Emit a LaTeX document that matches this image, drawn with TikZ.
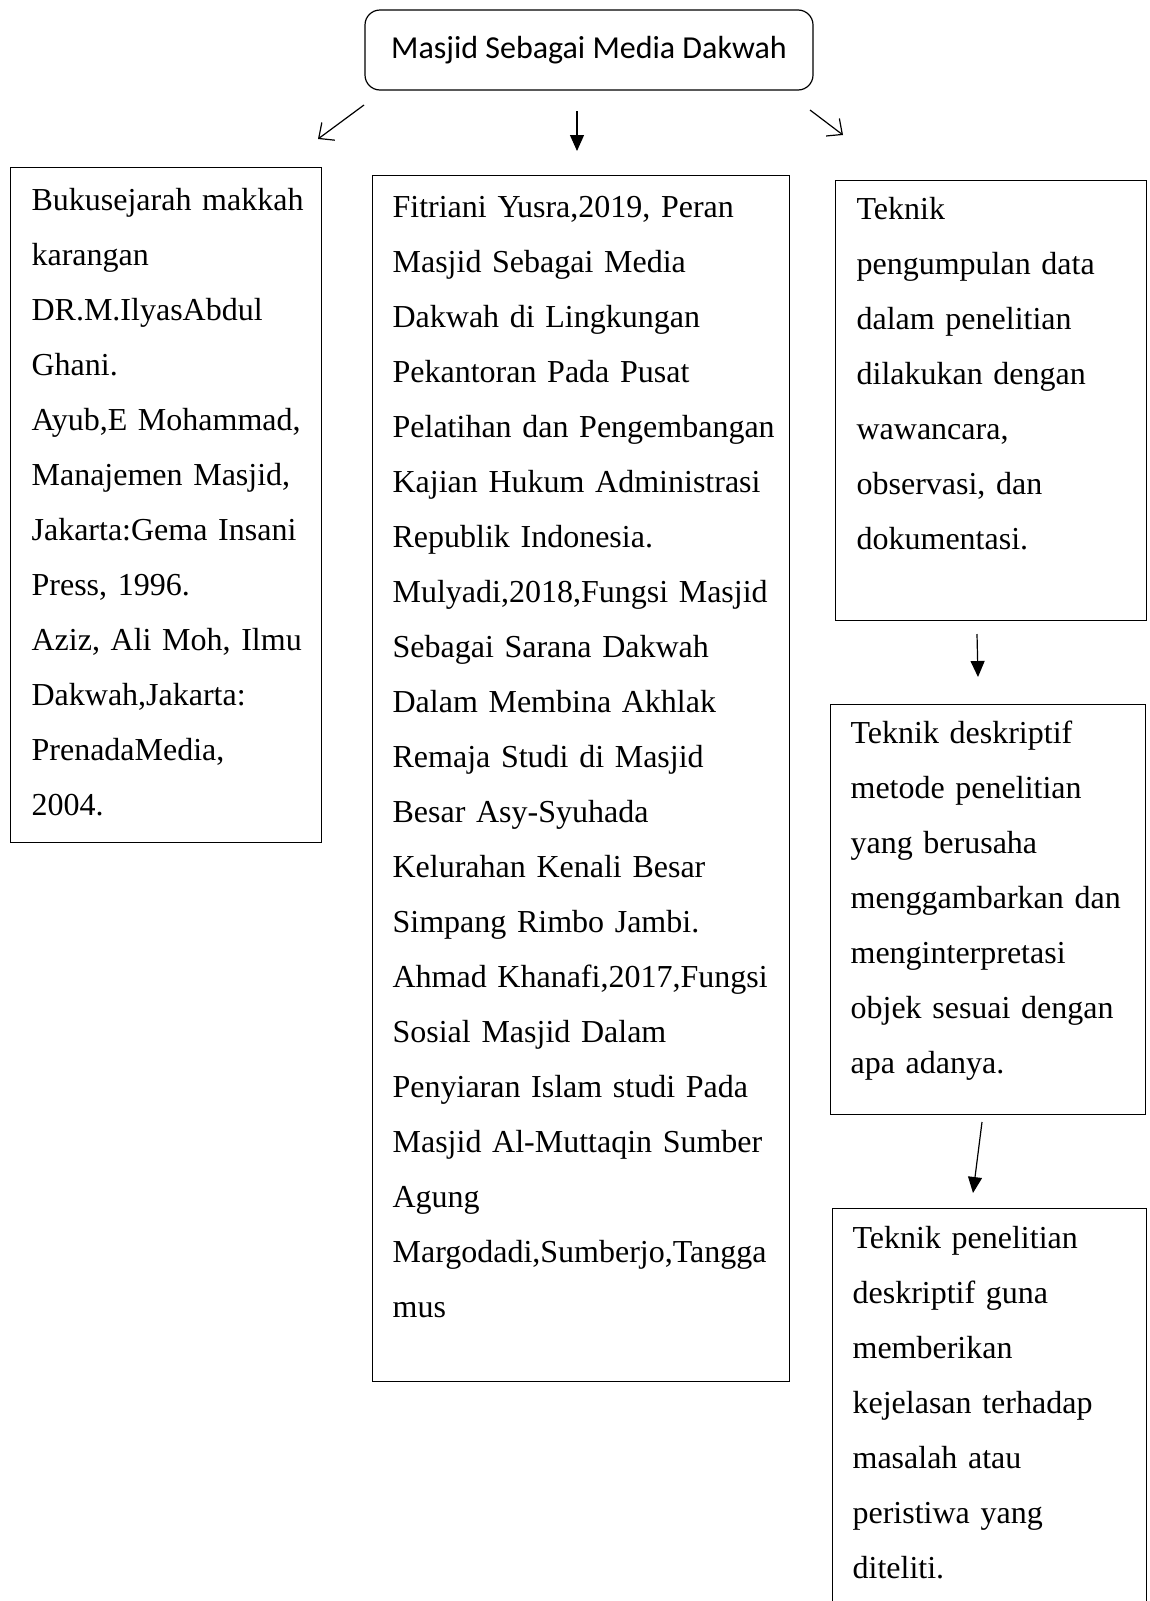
\documentclass[tikz,border=0pt]{standalone}
\usepackage{fontspec}
\setmainfont{Liberation Serif}
\newfontfamily\calibri{Carlito}
\usetikzlibrary{arrows.meta}

\begin{document}
\begin{tikzpicture}[x=0.5pt, y=-0.5pt, line width=0.6pt,
  box/.style = {draw, rectangle, anchor=north west, inner sep=0pt},
  txt/.style = {anchor=north west, inner sep=0pt, align=left, text width=#1,
    font=\fontsize{16pt}{27.5pt}\selectfont, execute at begin node=\rule{0pt}{12pt}},
  arrowopen/.style = {-{Straight Barb[length=6pt, width=11pt]}},
  arrowfull/.style = {-{Triangle[length=8pt, width=7pt]}}]
\clip (0,0) rectangle (1150,1601);
\fill[white] (0,0) rectangle (1150,1601);
% judul
\node[draw, rounded corners=7.5pt, minimum width=224pt, minimum height=40pt,
  font=\calibri\fontsize{16pt}{19pt}\selectfont] (judul) at (589,50) {Masjid Sebagai Media Dakwah};
% kotak
\node[box, minimum width=155.5pt, minimum height=337.5pt] (buku) at (10,167) {};
\node[box, minimum width=208.5pt, minimum height=603pt] (jurnal) at (372,175) {};
\node[box, minimum width=155.5pt, minimum height=220pt] (teknik) at (835,180) {};
\node[box, minimum width=157.5pt, minimum height=205pt] (deskriptif) at (830,704) {};
\node[box, minimum width=157pt, minimum height=220pt] (penelitian) at (832,1208) {};
% teks
\node[txt=135pt] (bukuteks) at ([shift={(21,19)}]buku.north west) {%
  \makebox[\linewidth][s]{Bukusejarah makkah}\\
  karangan\\
  DR.M.IlyasAbdul\\
  Ghani.\\
  \makebox[\linewidth][s]{Ayub,E Mohammad,}\\
  \makebox[\linewidth][s]{Manajemen Masjid,}\\
  \makebox[\linewidth][s]{Jakarta:Gema Insani}\\
  Press, 1996.\\
  \makebox[\linewidth][s]{Aziz, Ali Moh, Ilmu}\\
  Dakwah,Jakarta:\\
  PrenadaMedia,\\
  2004.};
\node[txt=200pt] (jurnalteks) at ([shift={(20,18)}]jurnal.north west) {%
  Fitriani Yusra,2019, Peran\\
  Masjid Sebagai Media\\
  Dakwah di Lingkungan\\
  Pekantoran Pada Pusat\\
  Pelatihan dan Pengembangan\\
  Kajian Hukum Administrasi\\
  Republik Indonesia.\\
  Mulyadi,2018,Fungsi Masjid\\
  Sebagai Sarana Dakwah\\
  Dalam Membina Akhlak\\
  Remaja Studi di Masjid\\
  Besar Asy-Syuhada\\
  Kelurahan Kenali Besar\\
  Simpang Rimbo Jambi.\\
  Ahmad Khanafi,2017,Fungsi\\
  Sosial Masjid Dalam\\
  Penyiaran Islam studi Pada\\
  Masjid Al-Muttaqin Sumber\\
  Agung\\
  Margodadi,Sumberjo,Tangga\\
  mus};
\node[txt=145pt] (teknikteks) at ([shift={(21,15)}]teknik.north west) {%
  Teknik\\
  pengumpulan data\\
  dalam penelitian\\
  dilakukan dengan\\
  wawancara,\\
  observasi, dan\\
  dokumentasi.};
\node[txt=145pt] (deskriptifteks) at ([shift={(20,15)}]deskriptif.north west) {%
  Teknik deskriptif\\
  metode penelitian\\
  yang berusaha\\
  menggambarkan dan\\
  menginterpretasi\\
  objek sesuai dengan\\
  apa adanya.};
\node[txt=145pt] (penelitianteks) at ([shift={(20,16)}]penelitian.north west) {%
  Teknik penelitian\\
  deskriptif guna\\
  memberikan\\
  kejelasan terhadap\\
  masalah atau\\
  peristiwa yang\\
  diteliti.};
% panah
\coordinate (p1) at (364,105);
\coordinate (q1) at (318,139);
\coordinate (p2) at (577,111);
\coordinate (q2) at (577,151);
\coordinate (p3) at (810,110);
\coordinate (q3) at (843,135);
\coordinate (p4) at (977,634);
\coordinate (q4) at (978,677);
\coordinate (p5) at (982,1122);
\coordinate (q5) at (973,1193);
\draw[arrowopen] (p1) -- (q1);
\draw[arrowfull] (p2) -- (q2);
\draw[arrowopen] (p3) -- (q3);
\draw[arrowfull] (p4) -- (q4);
\draw[arrowfull] (p5) -- (q5);
\end{tikzpicture}
\end{document}
